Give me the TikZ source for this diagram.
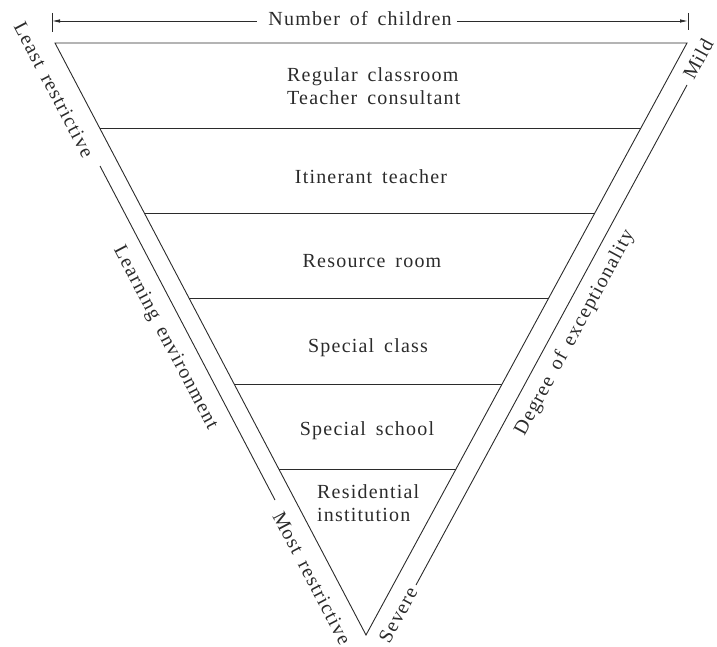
\documentclass[tikz,border=0pt]{standalone}
\usepackage{fontspec}
\setmainfont{Liberation Serif}[LetterSpace=6,WordSpace=1.6]
\usetikzlibrary{arrows.meta,calc}
\definecolor{ink}{HTML}{2B2B2B}

\begin{document}
\begin{tikzpicture}[x=1pt, y=1pt,
  edge/.style={line width=0.9pt, draw=ink},
  tier/.style={font=\fontsize{20}{23}\selectfont, text=ink, inner sep=0pt},
  sidelabel/.style={font=\fontsize{20}{23}\selectfont, text=ink, inner sep=0pt},
  dimarr/.style={line width=0.8pt, draw=ink}
]
  \useasboundingbox (0,0) rectangle (717,-647);

  \coordinate (tl) at (55,-43);
  \coordinate (tr) at (687,-43);
  \coordinate (apex) at (366,-635);
  \draw[edge] (tl) -- (tr) -- (apex) -- cycle;
  \foreach \t in {0.144,0.288,0.432,0.576,0.72}
    \draw[edge] ($(tl)!\t!(apex)$) -- ($(tr)!\t!(apex)$);

  \node[tier, anchor=west, align=left] (regular) at (287,-86) {Regular classroom\\Teacher consultant};
  \node[tier, anchor=base] (itinerant) at (371,-183) {Itinerant teacher};
  \node[tier, anchor=base] (resource) at (372,-267) {Resource room};
  \node[tier, anchor=base] (class) at (368,-352) {Special class};
  \node[tier, anchor=base] (school) at (367,-435) {Special school};
  \node[tier, anchor=west, align=left] (resid) at (317,-503) {Residential\\institution};

  \coordinate (dl) at (52,-21);
  \coordinate (dr) at (688,-21);
  \draw[dimarr] (52,-13) -- (52,-32);
  \draw[dimarr] (688,-13) -- (688,-30);
  \node[sidelabel, anchor=base] (number) at (360,-26) {Number of children};
  \draw[dimarr, {Latex[length=8pt,width=3.5pt]}-] (dl) -- ([xshift=-11pt]number.west |- dl);
  \draw[dimarr, -{Latex[length=8pt,width=3.5pt]}] ([xshift=5pt]number.east |- dr) -- (dr);

  \coordinate (lenvtop) at (100,-166);
  \coordinate (lenvbot) at (275,-500);
  \coordinate (degtop) at (687,-85);
  \coordinate (degbot) at (416,-585);
  \draw[edge] (lenvtop) -- (lenvbot);
  \draw[edge] (degtop) -- (degbot);

  \node[sidelabel, rotate=-62.3] (least) at (54,-90) {Least restrictive};
  \node[sidelabel, rotate=-62.3] (learning) at (165,-338) {Learning environment};
  \node[sidelabel, rotate=-62.3] (most) at (312,-578) {Most restrictive};
  \node[sidelabel, rotate=61.5] (mild) at (698,-59) {Mild};
  \node[sidelabel, rotate=61.5] (degree) at (575,-333) {Degree of exceptionality};
  \node[sidelabel, rotate=61.5] (severe) at (398,-615) {Severe};
\end{tikzpicture}
\end{document}
